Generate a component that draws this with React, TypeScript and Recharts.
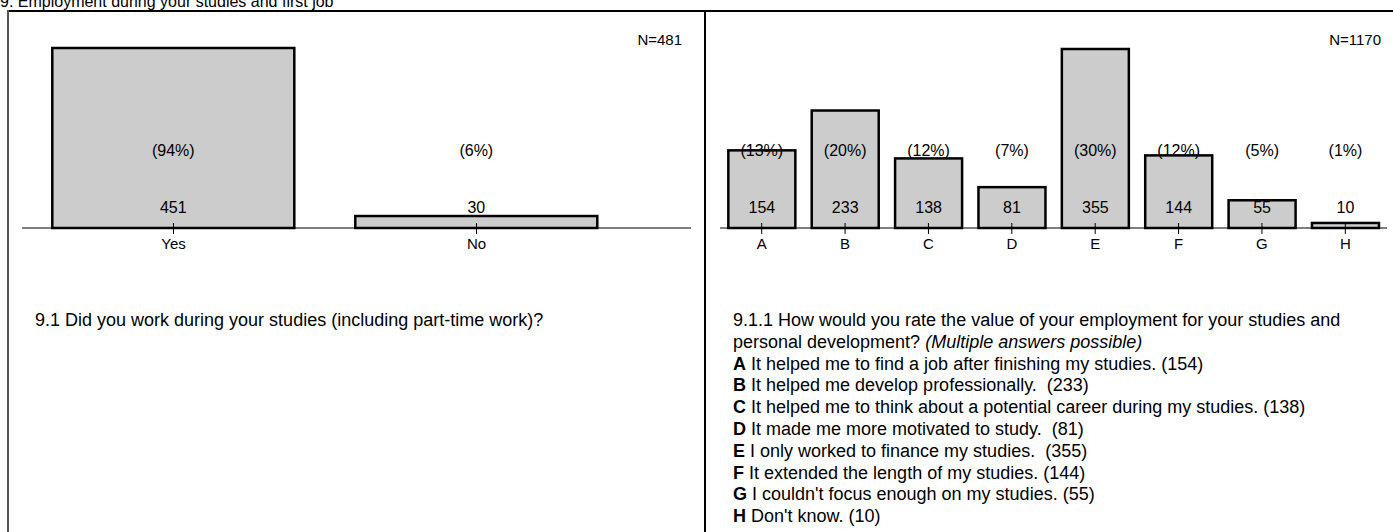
import React from 'react';
import { BarChart, Bar, XAxis, YAxis } from 'recharts';

const FONT = '"Liberation Sans", Arial, Helvetica, sans-serif';

const pageTitle = '9. Employment during your studies and first job';

// Panel 1
const workCategories = ['Yes', 'No'];
const workCounts = [451, 30];
const workPercents = ['(94%)', '(6%)'];
const workN = 'N=481';
const workQuestion = '9.1 Did you work during your studies (including part-time work)?';

// Panel 2
const valueCategories = ['A', 'B', 'C', 'D', 'E', 'F', 'G', 'H'];
const valueCounts = [154, 233, 138, 81, 355, 144, 55, 10];
const valuePercents = ['(13%)', '(20%)', '(12%)', '(7%)', '(30%)', '(12%)', '(5%)', '(1%)'];
const valueN = 'N=1170';
const valueQuestionLine1 = '9.1.1 How would you rate the value of your employment for your studies and';
const valueQuestionLine2 = 'personal development? ';
const valueQuestionNote = '(Multiple answers possible)';
const valueAnswers = [
  'It helped me to find a job after finishing my studies. ',
  'It helped me develop professionally.  ',
  'It helped me to think about a potential career during my studies. ',
  'It made me more motivated to study.  ',
  'I only worked to finance my studies.  ',
  'It extended the length of my studies. ',
  "I couldn't focus enough on my studies. ",
  "Don't know. ",
];

const workData = workCategories.map((c, i) => ({ cat: c, count: workCounts[i], pct: workPercents[i] }));
const valueData = valueCategories.map((c, i) => ({ cat: c, count: valueCounts[i], pct: valuePercents[i] }));

const LABEL_SIZE = 16;
const TICK_SIZE = 15;

const BarShape = (props: any) => {
  const { x, y, width, height, payload } = props;
  const bottom = y + height;
  const cx = x + width / 2;
  return (
    <g>
      <rect x={x} y={y} width={width} height={height} fill="#cccccc" stroke="#000" strokeWidth={2.5} />
      <text x={cx} y={bottom - 78} dy="0.35em" textAnchor="middle" fontSize={LABEL_SIZE} fontFamily={FONT} fill="#000">
        {payload.pct}
      </text>
      <text x={cx} y={bottom - 21} dy="0.35em" textAnchor="middle" fontSize={LABEL_SIZE} fontFamily={FONT} fill="#000">
        {payload.count}
      </text>
    </g>
  );
};

const AxisTick = (props: any) => {
  const { x, y, payload } = props;
  return (
    <g>
      <line x1={x} x2={x} y1={y - 5} y2={y + 6} stroke="#000" strokeWidth={1} />
      <text x={x} y={y + 16} dy="0.35em" textAnchor="middle" fontSize={TICK_SIZE} fontFamily={FONT} fill="#000">
        {payload.value}
      </text>
    </g>
  );
};

export default function App() {
  return (
    <div
      style={{
        position: 'absolute',
        left: 0,
        top: 0,
        width: 1393,
        height: 532,
        overflow: 'hidden',
        background: '#fff',
        fontFamily: FONT,
        color: '#000',
      }}
    >
      <div style={{ position: 'absolute', left: 0, top: -6, fontSize: 16, lineHeight: '16px', whiteSpace: 'nowrap' }}>
        {pageTitle}
      </div>
      {/* frame */}
      <div style={{ position: 'absolute', left: 7, top: 10, width: 1386, height: 2, background: '#000' }} />
      <div style={{ position: 'absolute', left: 7, top: 10, width: 2, height: 522, background: '#555' }} />
      <div style={{ position: 'absolute', left: 704, top: 10, width: 2, height: 522, background: '#000' }} />

      {/* left chart */}
      <div style={{ position: 'absolute', left: 0, top: 0 }}>
        <BarChart width={700} height={300} data={workData} margin={{ top: 48, right: 9, bottom: 42, left: 22 }} barCategoryGap="10%">
          <XAxis
            dataKey="cat"
            height={30}
            padding={{ left: 0, right: 63 }}
            axisLine={{ stroke: '#000', strokeWidth: 1 }}
            tickLine={false}
            tickSize={0}
            tickMargin={0}
            tick={<AxisTick />}
            interval={0}
          />
          <YAxis hide domain={[0, 451]} />
          <Bar dataKey="count" isAnimationActive={false} shape={<BarShape />} />
        </BarChart>
      </div>
      <div style={{ position: 'absolute', right: 1393 - 682, top: 31, fontSize: 15, lineHeight: '18px', whiteSpace: 'nowrap' }}>
        {workN}
      </div>
      <div style={{ position: 'absolute', left: 35, top: 310, fontSize: 18, lineHeight: '21.8px', whiteSpace: 'nowrap' }}>
        {workQuestion}
      </div>

      {/* right chart */}
      <div style={{ position: 'absolute', left: 705, top: 0 }}>
        <BarChart width={688} height={300} data={valueData} margin={{ top: 49, right: 6, bottom: 42, left: 15 }} barCategoryGap="10%">
          <XAxis
            dataKey="cat"
            height={30}
            axisLine={{ stroke: '#000', strokeWidth: 1 }}
            tickLine={false}
            tickSize={0}
            tickMargin={0}
            tick={<AxisTick />}
            interval={0}
          />
          <YAxis hide domain={[0, 355]} />
          <Bar dataKey="count" isAnimationActive={false} shape={<BarShape />} />
        </BarChart>
      </div>
      <div style={{ position: 'absolute', right: 1393 - 1381, top: 31, fontSize: 15, lineHeight: '18px', whiteSpace: 'nowrap' }}>
        {valueN}
      </div>
      <div style={{ position: 'absolute', left: 733, top: 310, fontSize: 18, lineHeight: '21.8px', whiteSpace: 'pre' }}>
        <div>{valueQuestionLine1}</div>
        <div>
          {valueQuestionLine2}
          <i>{valueQuestionNote}</i>
        </div>
        {valueCategories.map((c, i) => (
          <div key={c}>
            <b>{c}</b>
            {' ' + valueAnswers[i] + '(' + valueCounts[i] + ')'}
          </div>
        ))}
      </div>
    </div>
  );
}
